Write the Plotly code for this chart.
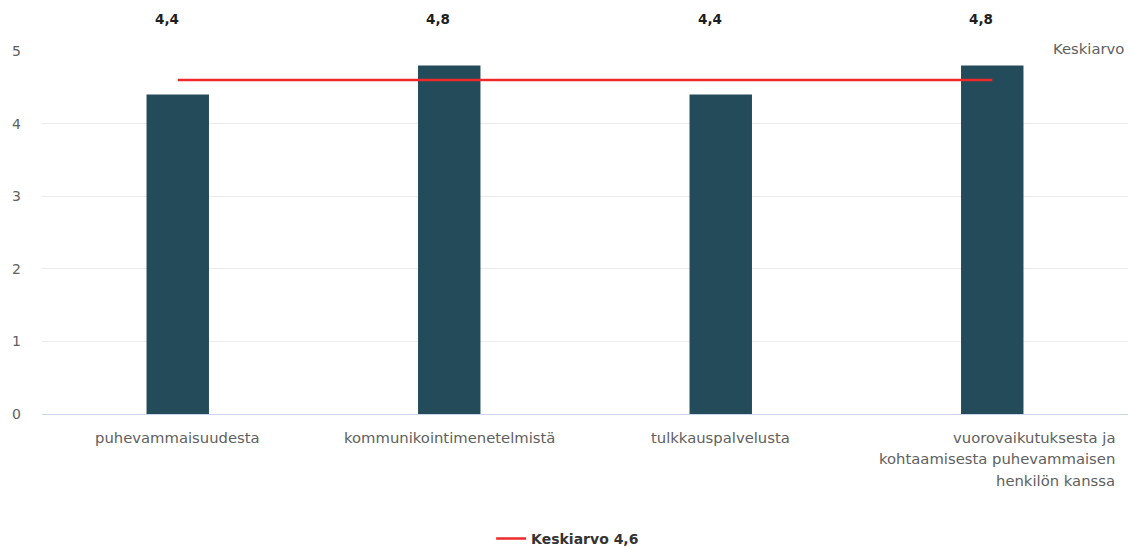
import plotly.graph_objects as go

# Topics and their average scores
categories = [
    "puhevammaisuudesta",
    "kommunikointimenetelmistä",
    "tulkkauspalvelusta",
    "vuorovaikutuksesta ja<br>kohtaamisesta puhevammaisen<br>henkilön kanssa",
]
scores = [4.4, 4.8, 4.4, 4.8]
mean_score = 4.6
y_ticks = [0, 1, 2, 3, 4, 5]

BAR = "#244b5a"
RED = "#ee2a2a"
GREY = "#606060"
FONT = "DejaVu Sans, Verdana, sans-serif"
LABEL_SIZE = 14.8
LINE_GAP = 21.5


def fi(v):
    return f"{v:.1f}".replace(".", ",")


x_idx = list(range(len(categories)))

fig = go.Figure()
fig.add_bar(
    x=x_idx, y=scores, width=0.23, marker=dict(color=BAR, line=dict(width=0)),
    showlegend=False, hoverinfo="y",
)
fig.add_scatter(
    x=[x_idx[0], x_idx[-1]], y=[mean_score, mean_score], mode="lines",
    line=dict(color=RED, width=2.5), name=f"<b>Keskiarvo {fi(mean_score)}</b>",
)

annotations = []
# value labels along the top
for i, v in zip(x_idx, scores):
    annotations.append(dict(
        x=i, y=1.0, xref="x", yref="paper", yshift=42, xshift=-11,
        text=f"<b>{fi(v)}</b>",
        showarrow=False, font=dict(size=13.5, color="#1e1e1e", family=FONT),
    ))
# category labels below the axis; the wrapped one is right-aligned line by line
for i, c in zip(x_idx, categories):
    lines = c.split("<br>")
    multi = len(lines) > 1
    for k, line in enumerate(lines):
        annotations.append(dict(
            x=i, y=0, xref="x", yref="paper", yshift=-23 - k * LINE_GAP,
            xshift=125 if multi else 0, xanchor="right" if multi else "center",
            text=line, showarrow=False, yanchor="middle",
            font=dict(size=LABEL_SIZE, color=GREY, family=FONT),
        ))
annotations.append(dict(
    x=1.0, y=5, xref="paper", yref="y", xanchor="right", yanchor="middle",
    yshift=3, xshift=-2, text="Keskiarvo", showarrow=False,
    font=dict(size=LABEL_SIZE, color=GREY, family=FONT),
))

fig.update_layout(
    width=1139, height=548,
    margin=dict(l=42, r=11, t=51, b=134, autoexpand=False),
    plot_bgcolor="white", paper_bgcolor="white",
    font=dict(family=FONT, size=13.5, color=GREY),
    xaxis=dict(
        range=[-0.5, len(categories) - 0.5], showticklabels=False,
        showgrid=False, zeroline=False, showline=False, ticks="",
    ),
    yaxis=dict(
        range=[0, 5], tickvals=y_ticks, ticktext=[str(t) for t in y_ticks],
        showgrid=True, gridcolor="#ebebeb", gridwidth=1,
        zeroline=True, zerolinecolor="#ccd6eb", zerolinewidth=1.2,
        showline=False, ticks="", ticklabelstandoff=20,
        tickfont=dict(size=14, color=GREY),
    ),
    legend=dict(
        orientation="h", x=0.484, xanchor="center", y=-0.30, yanchor="top",
        font=dict(size=14, color="#333333"),
    ),
    annotations=annotations,
)

fig.write_html("out.html")
